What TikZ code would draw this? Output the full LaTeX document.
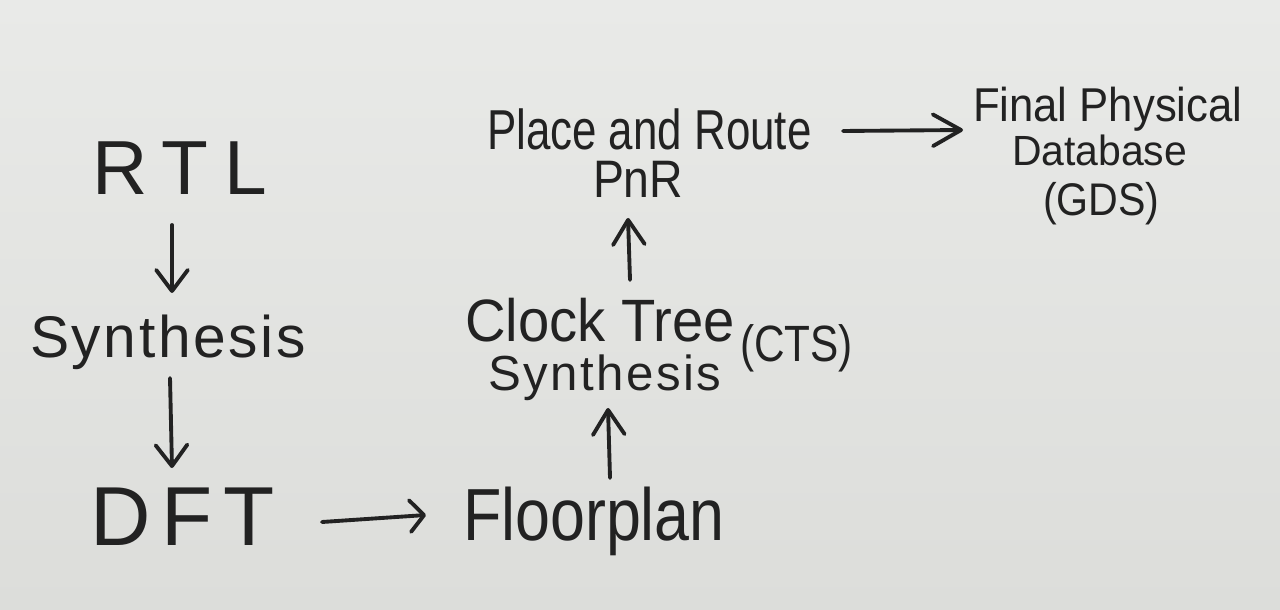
\documentclass[tikz,border=0pt]{standalone}
\usepackage{fontspec}
\setmainfont{Liberation Sans}
\usetikzlibrary{arrows.meta}
\definecolor{paperTop}{HTML}{E9EAE8}
\definecolor{paperBot}{HTML}{DCDDDA}
\definecolor{ink}{HTML}{222222}
\newcommand{\hwf}[3]{\fontsize{#1}{#1}\selectfont\addfontfeatures{FakeStretch=#2,LetterSpace=#3}}
\begin{document}
\begin{tikzpicture}[x=0.01cm,y=-0.01cm,
  lbl/.style={anchor=base west,inner sep=0pt,outer sep=0pt,text=ink},
  arr/.style={draw=ink,line width=1.1pt,line cap=round,
    -{Straight Barb[length=#1,width=9pt,round]}},
  arr/.default=6pt]
\useasboundingbox (0,0) rectangle (1280,610);
\shade[top color=paperTop,bottom color=paperBot] (0,0) rectangle (1280,610);

\node[lbl,font=\hwf{21.8}{1}{21}] (rtl) at (92,195) {RTL};
\node[lbl,font=\hwf{16.7}{1}{4.5}] (syn) at (30,358) {Synthesis};
\node[lbl,font=\hwf{23.8}{1}{13}] (dft) at (90,545) {DFT};
\node[lbl,font=\hwf{21}{0.85}{0}] (flp) at (463,540) {Floorplan};
\node[lbl,font=\hwf{17}{0.94}{0}] (cts1) at (465,342) {Clock Tree};
\node[lbl,font=\hwf{14}{1}{5}] (cts2) at (488,390) {Synthesis};
\node[lbl,font=\hwf{14.5}{0.83}{0}] (ctsab) at (740,362) {(CTS)};
\node[lbl,font=\hwf{16}{0.78}{0}] (pr) at (487,150) {Place and Route};
\node[lbl,font=\hwf{15}{0.88}{0}] (pnr) at (593,198) {PnR};
\node[lbl,font=\hwf{13.5}{0.92}{0}] (fin1) at (973,122) {Final Physical};
\node[lbl,font=\hwf{12}{0.97}{0}] (fin2) at (1012,166) {Database};
\node[lbl,font=\hwf{13}{0.9}{0}] (fin3) at (1043,216) {(GDS)};

\draw[arr] ([shift={(80,30)}]rtl.base west) -- ([shift={(142,-65)}]syn.base west);
\draw[arr] ([shift={(140,20)}]syn.base west) -- ([shift={(82,-77)}]dft.base west);
\draw[arr=4pt] ([shift={(232,-23)}]dft.base west) -- ([shift={(-37,-25)}]flp.base west);
\draw[arr=7pt] ([shift={(147,-62)}]flp.base west) -- ([shift={(120,18)}]cts2.base west);
\draw[arr=7pt] ([shift={(165,-62)}]cts1.base west) -- ([shift={(35,20)}]pnr.base west);
\draw[arr=8pt] ([shift={(356,-19)}]pr.base west) -- ([shift={(-10,8)}]fin1.base west);
\end{tikzpicture}
\end{document}
